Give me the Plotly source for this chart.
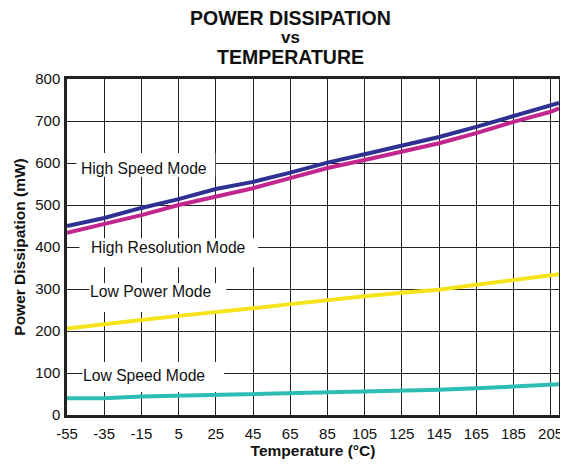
import plotly.graph_objects as go

temps = [-55, -35, -15, 5, 25, 45, 65, 85, 105, 125, 145, 165, 185, 205, 209.5]
high_speed = [450, 469, 493, 514, 538, 555, 577, 601, 621, 641, 662, 686, 712, 736, 743]
high_res = [434, 455, 476, 500, 520, 540, 564, 588, 607, 627, 647, 671, 698, 722, 730]
low_power = [206, 217, 226, 236, 244, 254, 264, 274, 283, 291, 298, 310, 321, 332, 335]
low_speed = [40, 40, 44, 46, 46, 49, 52, 53, 55, 58, 60, 63.5, 67, 71, 73]

x_ticks = [-55, -35, -15, 5, 25, 45, 65, 85, 105, 125, 145, 165, 185, 205]
y_ticks = [0, 100, 200, 300, 400, 500, 600, 700, 800]

series = [
    ("High Speed Mode", high_speed, "#2E3192"),
    ("High Resolution Mode", high_res, "#C1268F"),
    ("Low Power Mode", low_power, "#F5E31C"),
    ("Low Speed Mode", low_speed, "#2DBDB5"),
]

FONT = "Liberation Sans, Arial, sans-serif"
OFF = 8  # page body margin offset

fig = go.Figure()
for name, vals, col in series:
    fig.add_trace(go.Scatter(x=temps, y=vals, mode="lines", name=name,
                             line=dict(color=col, width=4), showlegend=False))

# label boxes (white rectangles over the grid) and label texts
boxes = [
    ("High Speed Mode", -49.9, 24.7, 567, 624, -13.7, 588),
    ("High Resolution Mode", -48.3, 47.7, 352, 421, -0.3, 398),
    ("Low Power Mode", -43.0, 30.6, 245, 314, -9.9, 293),
    ("Low Speed Mode", -46.7, 29.5, 55, 126, -13.7, 95),
]
shapes = []
annotations = []
for txt, x0, x1, y0, y1, tx, ty in boxes:
    shapes.append(dict(type="rect", xref="x", yref="y", x0=x0, x1=x1, y0=y0, y1=y1,
                       fillcolor="white", line=dict(width=0), layer="between"))
    annotations.append(dict(x=tx, y=ty, xref="x", yref="y", text=txt, showarrow=False,
                            font=dict(family=FONT, size=15.7, color="#111"),
                            xanchor="center", yanchor="middle"))

# plot area in page pixels
pl, pr, pt, pb = 67, 563, 79, 415
titles = [("<b>POWER DISSIPATION</b>", 292, 18, 19.5),
          ("<b>vs</b>", 292, 37.5, 17),
          ("<b>TEMPERATURE</b>", 292, 57, 19.5)]
for txt, px, py, sz in titles:
    annotations.append(dict(x=(px - pl) / (pr - pl), y=(pb - py) / (pb - pt),
                            xref="paper", yref="paper", text=txt, showarrow=False,
                            font=dict(family=FONT, size=sz, color="#111"),
                            xanchor="center", yanchor="middle"))

W, H = 568 - OFF, 468 - OFF
fig.update_layout(
    width=W, height=H,
    margin=dict(l=pl - OFF, r=W - (pr - OFF), t=pt - OFF, b=H - (pb - OFF), pad=0),
    paper_bgcolor="white", plot_bgcolor="white",
    font=dict(family=FONT, size=15, color="#111"),
    shapes=shapes,
    annotations=annotations,
    xaxis=dict(range=[-55, 209.5], tickvals=x_ticks, ticktext=[str(v) for v in x_ticks],
               showgrid=True, gridcolor="#222", gridwidth=1,
               showline=True, linecolor="#222", linewidth=2.5, mirror=True,
               ticks="", ticklabelstandoff=3, zeroline=False,
               title=dict(text="<b>Temperature (°C)</b>", font=dict(size=15.5), standoff=5),
               tickfont=dict(size=15)),
    yaxis=dict(range=[0, 800], tickvals=y_ticks,
               showgrid=True, gridcolor="#222", gridwidth=1,
               showline=True, linecolor="#222", linewidth=2.5, mirror=True,
               ticks="", ticklabelstandoff=1, zeroline=False,
               title=dict(text="<b>Power Dissipation (mW)</b>", font=dict(size=15.5), standoff=6),
               tickfont=dict(size=15)),
)

fig.write_html("out.html")
